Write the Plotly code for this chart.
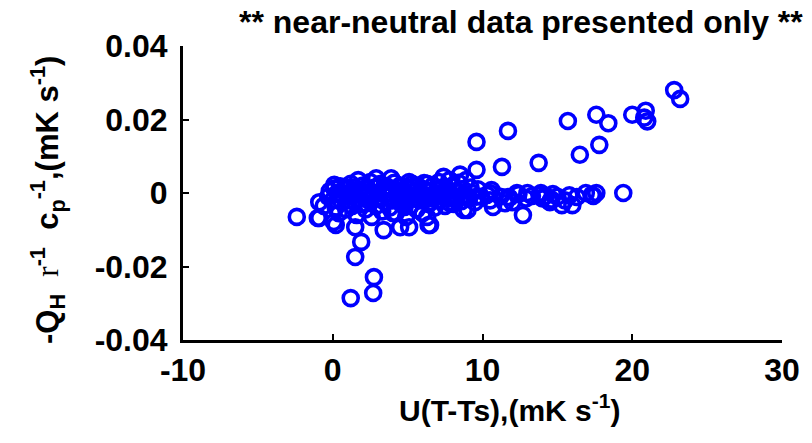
import plotly.graph_objects as go

# sparse / outlying points
x_sparse = [-2.4, -1.0, 0.2, 1.5, 1.9, 1.5, 2.75, 2.7, 1.2, 3.4, 4.5, 6.5, 9.0,
            9.6, 11.7, 15.7, 17.6, 18.4, 20.0, 20.9, 21.0, 20.8, 22.8, 23.2,
            9.6, 11.3, 13.75, 16.5, 17.8, 19.4, 12.7, -0.9, 0.07, 4.0, 5.1, 6.4, 6.3, 8.75]
y_sparse = [-0.0065, -0.0068, -0.0087, -0.0093, -0.0133, -0.0174, -0.0229, -0.0272, -0.0286, -0.0101, -0.0093, -0.0087, -0.0046,
            0.0139, 0.0169, 0.0196, 0.0213, 0.0190, 0.0213, 0.0224, 0.0195, 0.0205, 0.0280, 0.0256,
            0.0063, 0.0071, 0.0082, 0.0104, 0.0131, 0.0000, -0.0060, -0.0068, -0.0079, -0.0054, -0.0093, -0.0087, -0.0065, -0.0046]

# row of points between 10 and 18
x_row = [10.3, 10.7, 11.8, 12.4, 13.3, 14.2, 14.7, 15.3, 16.3, 16.9, 14.5, 12.9, 11.2, 15.8, 13.8,
         17.4, 12.0, 10.5, 11.5, 14.0, 15.0, 16.0, 17.3, 17.6, 10.6, 11.7, 12.3, 13.0, 13.9, 14.6, 15.5]
y_row = [-0.0005, -0.0038, -0.0013, -0.0003, -0.0008, -0.0008, -0.0003, -0.0033, -0.0011, 0.0000, -0.0025, -0.0015, -0.0010, -0.0006, -0.0005,
         -0.0008, -0.0025, -0.0020, -0.0028, -0.0015, -0.0010, -0.0033, -0.0005, 0.0000, 0.0008, -0.0011, 0.0000, 0.0000, 0.0000, -0.0018, -0.0020]

# dense near-zero cluster
x_core = [-0.6, -0.3, -0.2, 0.0, 0.1, 0.2, 0.3, 0.4, 0.5, 0.6, 0.7, 0.8, 0.9, 1.0, 1.1, 1.2, 1.3, 1.4, 1.5, 1.6,
          1.7, 1.8, 1.9, 2.0, 2.1, 2.2, 2.3, 2.4, 2.5, 2.6, 2.7, 2.8, 2.9, 3.0, 3.1, 3.2, 3.3, 3.4, 3.5, 3.6,
          3.7, 3.8, 3.9, 4.0, 4.1, 4.2, 4.3, 4.4, 4.5, 4.6, 4.7, 4.8, 4.9, 5.0, 5.1, 5.2, 5.3, 5.4, 5.5, 5.6,
          5.7, 5.8, 5.9, 6.0, 6.1, 6.2, 6.3, 6.4, 6.5, 6.6, 6.7, 6.8, 6.9, 7.0, 7.1, 7.2, 7.3, 7.5, 7.6, 7.7,
          7.8, 7.9, 8.0, 8.1, 8.2, 8.3, 8.4, 8.6, 8.7, 8.8, 8.9, 9.1, 9.2, 9.3, 9.5, 9.7, 9.9,
          0.5, 1.0, 1.5, 2.0, 2.5, 3.0, 3.5, 4.0, 4.5, 5.0, 5.5, 6.0, 6.5, 7.0, 7.5, 8.0,
          -0.9, 1.7, 2.9, 3.9, 0.1, 5.1, 6.1, 7.4, 8.5, 7.8, 7.0, 9.6, 4.8, 10.5]
y_core = [-0.0035, -0.0010, 0.0005, -0.0020, 0.0012, -0.0040, 0.0000, -0.0055, 0.0018, -0.0025, -0.0010, 0.0010, -0.0045, 0.0000, -0.0020, 0.0025, -0.0035, -0.0005, 0.0015, -0.0060,
          -0.0015, 0.0005, -0.0030, 0.0020, -0.0010, -0.0045, 0.0010, -0.0020, 0.0030, -0.0065, -0.0005, 0.0015, -0.0035, 0.0000, -0.0015, 0.0025, -0.0050, 0.0005, -0.0025, 0.0018,
          -0.0010, -0.0040, 0.0010, -0.0020, 0.0028, -0.0055, 0.0000, -0.0012, 0.0020, -0.0030, 0.0008, -0.0018, -0.0065, 0.0015, -0.0005, -0.0035, 0.0025, -0.0015, 0.0005, -0.0045,
          0.0018, -0.0020, 0.0000, -0.0055, 0.0010, -0.0010, 0.0025, -0.0030, 0.0005, -0.0015, 0.0020, -0.0040, 0.0000, -0.0020, 0.0030, -0.0005, 0.0015, -0.0035, 0.0010, -0.0015,
          0.0035, -0.0005, 0.0020, -0.0030, 0.0005, -0.0010, 0.0028, -0.0022, 0.0010, -0.0005, 0.0035, -0.0015, 0.0015, 0.0000, -0.0025, 0.0010, -0.0010,
          -0.0005, 0.0015, -0.0025, -0.0005, -0.0015, 0.0018, -0.0005, 0.0008, -0.0025, -0.0010, 0.0020, -0.0010, -0.0025, 0.0010, 0.0005, -0.0012,
          -0.0025, 0.0035, 0.0040, 0.0040, 0.0022, 0.0030, 0.0027, 0.0044, 0.0050, -0.0027, -0.0010, -0.0010, -0.0038, 0.0000]

x_all = x_sparse + x_row + x_core
y_all = y_sparse + y_row + y_core

x_ticks = [-10, 0, 10, 20, 30]
x_tick_text = ["-10", "0", "10", "20", "30"]
y_ticks = [-0.04, -0.02, 0, 0.02, 0.04]
y_tick_text = ["-0.04", "-0.02", "0", "0.02", "0.04"]

FONT = "Liberation Sans, Arial, sans-serif"

fig = go.Figure()
fig.add_trace(go.Scatter(
    x=x_all, y=y_all, mode="markers",
    marker=dict(symbol="circle-open", size=15, color="#0000ff",
                line=dict(width=3.6, color="#0000ff")),
    showlegend=False, cliponaxis=False,
))

W, H = 812, 443
L, R, T, B = 183, 21, 46, 103
pw, ph = W - L - R, H - T - B

def px(xp):
    return (xp - L) / pw

def py(yp):
    return (H - B - yp) / ph

tickfont = dict(family=FONT, size=32, color="black", weight="bold")

fig.update_layout(
    width=W, height=H,
    margin=dict(l=L, r=R, t=T, b=B, pad=0),
    paper_bgcolor="white", plot_bgcolor="white",
    font=dict(family=FONT, size=31, color="black"),
    xaxis=dict(range=[-10, 30], tickvals=x_ticks, ticktext=x_tick_text,
               showgrid=False, zeroline=False,
               showline=True, linecolor="black", linewidth=3,
               ticks="inside", ticklen=6, tickwidth=2, tickcolor="black",
               tickfont=tickfont),
    yaxis=dict(range=[-0.04, 0.04], tickvals=y_ticks, ticktext=y_tick_text,
               showgrid=False, zeroline=False,
               showline=True, linecolor="black", linewidth=3,
               ticks="inside", ticklen=6, tickwidth=2, tickcolor="black",
               ticklabelstandoff=6, tickfont=tickfont),
    annotations=[
        dict(text="<b>** near-neutral data presented only **</b>", xref="paper", yref="paper",
             x=px(526), y=py(22), xanchor="center", yanchor="middle", showarrow=False,
             font=dict(family=FONT, size=32, color="black")),
        dict(text="<b>U(T-Ts),(mK s<sup>-1</sup>)</b>", xref="paper", yref="paper",
             x=px(514), y=py(408), xanchor="center", yanchor="middle", showarrow=False,
             font=dict(family=FONT, size=30, color="black")),
        dict(text="<b>-Q<sub>H</sub></b>&nbsp;&nbsp;<span style='font-family:Liberation Serif, Times New Roman, serif;font-weight:normal'>r</span><b><sup>-1</sup>&nbsp; c<sub>p</sub><sup>-1</sup>,(mK s<sup>-1</sup>)</b>",
             xref="paper", yref="paper", textangle=-90,
             x=px(45), y=py(200), xanchor="center", yanchor="middle", showarrow=False,
             font=dict(family=FONT, size=31, color="black")),
    ],
)

fig.write_html("out.html")
